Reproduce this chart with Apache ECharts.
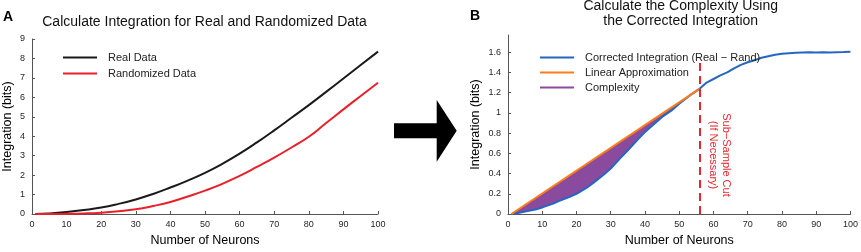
<!DOCTYPE html>
<html>
<head>
<meta charset="utf-8">
<script src="https://cdn.jsdelivr.net/npm/echarts@6/dist/echarts.min.js"></script>
<style>
  html, body { margin: 0; padding: 0; background: #fff; }
  #chart { width: 861px; height: 252px; }
</style>
</head>
<body>
<div id="chart"></div>
<script>
  // panel A: integration of real vs randomized data
  const neuronsA = [1, 5, 10, 15, 20, 25, 30, 35, 40, 45, 50, 55, 60, 65, 70, 75, 80, 85, 90, 95, 100];
  const realData = [0, 0.03, 0.1, 0.2, 0.33, 0.52, 0.75, 1.03, 1.36, 1.72, 2.12, 2.58, 3.1, 3.68, 4.3, 4.95, 5.6, 6.28, 6.97, 7.66, 8.35];
  const randData = [0, 0, 0.01, 0.03, 0.07, 0.14, 0.24, 0.41, 0.62, 0.9, 1.2, 1.55, 1.96, 2.42, 2.9, 3.42, 3.97, 4.68, 5.38, 6.07, 6.75];

  // panel B: corrected integration, its linear approximation and the cut
  const neuronsB = [1, 3, 5, 8, 10, 13, 15, 18, 20, 23, 25, 28, 30, 33, 35, 38, 40, 43, 45, 48, 50, 53, 56,
    58, 60, 62, 64, 66, 68, 70, 72, 74, 76, 78, 80, 82, 84, 86, 88, 90, 92, 94, 96, 98, 100];
  const corrected = [0, 0.01, 0.025, 0.045, 0.065, 0.1, 0.13, 0.17, 0.2, 0.26, 0.31, 0.39, 0.45, 0.56, 0.63, 0.74, 0.81, 0.9, 0.96, 1.03, 1.09, 1.17, 1.24,
    1.3, 1.335, 1.37, 1.4, 1.44, 1.475, 1.5, 1.52, 1.545, 1.56, 1.575, 1.585, 1.59, 1.595, 1.598, 1.6, 1.597, 1.6, 1.598, 1.6, 1.601, 1.605];
  const linearX = [1, 56];
  const linearY = [0, 1.24];
  const cutX = 56;
  const cutTop = 1.5;

  const yTicksA = [0, 1, 2, 3, 4, 5, 6, 7, 8, 9];
  const yTicksB = [0, 0.2, 0.4, 0.6, 0.8, 1, 1.2, 1.4, 1.6];

  const font = "'Liberation Sans', Arial, sans-serif";
  const axisColor = '#555';
  const labelColor = '#262626';

  const chart = echarts.init(document.getElementById('chart'));

  function pairs(xs, ys) {
    return xs.map((x, i) => [x, ys[i]]);
  }

  function xAxisCfg(idx) {
    return {
      type: 'value', gridIndex: idx, min: 0, max: 100, interval: 10,
      name: 'Number of Neurons', nameLocation: 'middle', nameGap: 20,
      nameTextStyle: { fontSize: 12.5, color: '#000', fontFamily: font },
      axisLine: { lineStyle: { color: axisColor, width: 1 } },
      axisTick: { inside: true, length: 3, lineStyle: { color: axisColor } },
      axisLabel: { fontSize: 9, color: labelColor, fontFamily: font, margin: 6 },
      splitLine: { show: false }
    };
  }

  function yAxisCfg(idx, max, ticks, gap) {
    return {
      type: 'value', gridIndex: idx, min: 0, max: max,
      name: 'Integration (bits)', nameLocation: 'middle', nameGap: gap,
      nameTextStyle: { fontSize: 12.5, color: '#000', fontFamily: font },
      axisLine: { show: true, lineStyle: { color: axisColor, width: 1 } },
      axisTick: { show: true, inside: true, length: 3, customValues: ticks, lineStyle: { color: axisColor } },
      axisLabel: { fontSize: 9, color: labelColor, fontFamily: font, margin: 7, customValues: ticks },
      splitLine: { show: false }
    };
  }

  const option = {
    animation: false,
    backgroundColor: '#fff',
    grid: [
      { left: 31, right: 483, top: 39, bottom: 31 },
      { left: 508, right: 7, top: 35, bottom: 31 }
    ],
    xAxis: [xAxisCfg(0), xAxisCfg(1)],
    yAxis: [yAxisCfg(0, 9, yTicksA, 18), yAxisCfg(1, 1.77, yTicksB, 26)],
    legend: [
      {
        left: 58, top: 47, orient: 'vertical', icon: 'rect',
        itemWidth: 34, itemHeight: 2, itemGap: 5,
        textStyle: { fontSize: 11, color: '#222', fontFamily: font, padding: [0, 0, 0, 6] },
        data: ['Real Data', 'Randomized Data']
      },
      {
        left: 535, top: 47, orient: 'vertical', icon: 'rect',
        itemWidth: 34, itemHeight: 2, itemGap: 4,
        textStyle: { fontSize: 11, color: '#222', fontFamily: font, padding: [0, 0, 0, 6] },
        data: ['Corrected Integration (Real − Rand)', 'Linear Approximation', 'Complexity']
      }
    ],
    graphic: [
      { type: 'text', left: 3, top: 10, style: { text: 'A', font: 'bold 14px ' + font, fill: '#000' } },
      { type: 'text', left: 470, top: 9, style: { text: 'B', font: 'bold 14px ' + font, fill: '#000' } },
      { type: 'text', x: 204.5, y: 22, style: { text: 'Calculate Integration for Real and Randomized Data', font: '14px ' + font, fill: '#111', align: 'center', verticalAlign: 'middle' } },
      { type: 'text', x: 680.7, y: 14, style: { text: 'Calculate the Complexity Using\nthe Corrected Integration', font: '14px ' + font, lineHeight: 15, fill: '#111', align: 'center', verticalAlign: 'middle' } },
      { type: 'text', x: 720, y: 155, rotation: -Math.PI / 2, style: { text: 'Sub−Sample Cut\n(If Necessary)', font: '11px ' + font, lineHeight: 13, fill: '#e8262d', align: 'center', verticalAlign: 'middle' } },
      { type: 'polygon', shape: { points: [[394, 123.3], [436.7, 123.3], [436.7, 100], [456.7, 130.8], [436.7, 161.7], [436.7, 138.3], [394, 138.3]] }, style: { fill: '#000' } }
    ],
    series: [
      {
        name: 'Real Data', type: 'line', xAxisIndex: 0, yAxisIndex: 0,
        data: pairs(neuronsA, realData), showSymbol: false, smooth: true,
        lineStyle: { color: '#1a1a1a', width: 2 }, itemStyle: { color: '#1a1a1a' }
      },
      {
        name: 'Randomized Data', type: 'line', xAxisIndex: 0, yAxisIndex: 0,
        data: pairs(neuronsA, randData), showSymbol: false, smooth: true,
        lineStyle: { color: '#e8202a', width: 2 }, itemStyle: { color: '#e8202a' }
      },
      {
        name: 'Complexity', type: 'custom', xAxisIndex: 1, yAxisIndex: 1,
        data: [[cutX, linearY[1]]],
        itemStyle: { color: '#8a4a9e' },
        renderItem: function (params, api) {
          let pts = [api.coord([linearX[0], linearY[0]]), api.coord([linearX[1], linearY[1]])];
          for (let i = neuronsB.length - 1; i >= 0; i--) {
            if (neuronsB[i] <= cutX) pts.push(api.coord([neuronsB[i], corrected[i]]));
          }
          return { type: 'polygon', shape: { points: pts }, style: { fill: '#8a4a9e' } };
        }
      },
      {
        name: 'Corrected Integration (Real − Rand)', type: 'line', xAxisIndex: 1, yAxisIndex: 1,
        data: pairs(neuronsB, corrected), showSymbol: false,
        lineStyle: { color: '#2567c0', width: 2 }, itemStyle: { color: '#2567c0' },
        markLine: {
          silent: true, symbol: ['none', 'none'], label: { show: false },
          lineStyle: { color: '#e8262d', width: 2, type: [8, 5] },
          data: [[{ coord: [cutX, 0] }, { coord: [cutX, cutTop] }]]
        }
      },
      {
        name: 'Linear Approximation', type: 'line', xAxisIndex: 1, yAxisIndex: 1,
        data: pairs(linearX, linearY), showSymbol: false,
        lineStyle: { color: '#ff7b1c', width: 2 }, itemStyle: { color: '#ff7b1c' }
      }
    ]
  };

  chart.setOption(option);
</script>
</body>
</html>
